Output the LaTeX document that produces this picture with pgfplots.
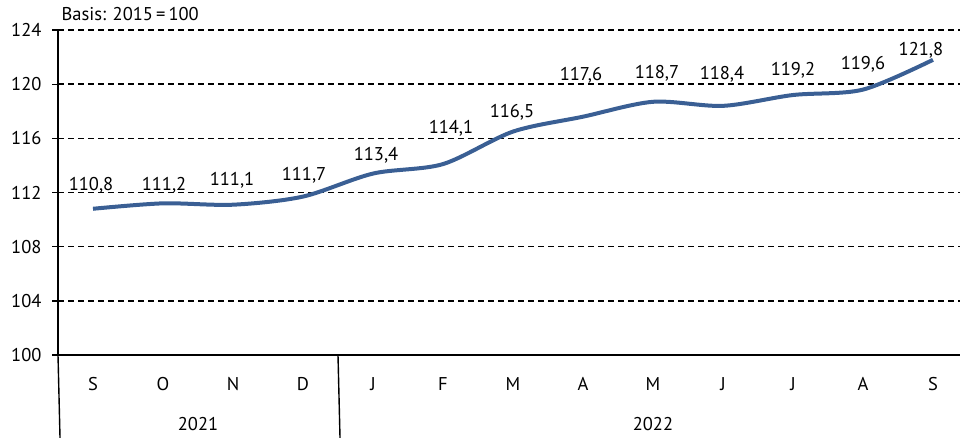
\documentclass[border=0pt]{standalone}
\usepackage{pgfplots}
\pgfplotsset{compat=1.18}
\usepackage{fontspec}
\setmainfont{PT Sans}
\definecolor{lineblue}{HTML}{3A5F94}
\pgfplotstableread{
x y dx dy
0 110.8 -2 23.7
1 111.2 1 18.3
2 111.1 -1 24.7
3 111.7 1 21.6
4 113.4 3 18.5
5 114.1 8 36
6 116.5 -1 19.6
7 117.6 -2 41.7
8 118.7 4 28.8
9 118.4 -1 31.8
10 119.2 0 25
11 119.6 0 25.6
12 121.8 -12 9.8
}\datatable
\begin{document}
\begin{tikzpicture}[x=1pt,y=1pt,font=\fontsize{18.5}{22}\selectfont]
\path[use as bounding box] (0,0) rectangle (960,437);
\node[anchor=west] at (58,423) {Basis: 2015\,=\,100};
\begin{axis}[
  at={(58pt,82pt)}, anchor=south west,
  scale only axis, width=902pt, height=325pt,
  xmin=-0.5, xmax=12.386, ymin=100, ymax=124,
  ytick={100,104,...,124},
  xtick={0,...,12}, xticklabels={S,O,N,D,J,F,M,A,M,J,J,A,S},
  axis x line=bottom, axis y line=left,
  axis line style={-, black, line width=1.4pt},
  ymajorgrids, grid style={dash pattern=on 6pt off 4pt, black, line width=1.4pt},
  tick align=outside, major tick length=6pt,
  x tick style={draw=none},
  y tick style={black, line width=1.3pt},
  /pgf/number format/assume math mode=true,
  ticklabel style={font=\fontsize{18.5}{22}\selectfont},
  xticklabel style={anchor=center, yshift=-23pt},
  yticklabel style={xshift=-7pt},
  clip=false,
]
\addplot[lineblue, line width=4pt, smooth, tension=0.5,
  nodes near coords={\pgfmathprintnumber[fixed,fixed zerofill,precision=1,use comma,assume math mode=true]{\pgfplotspointmeta}},
  visualization depends on={\thisrow{dx} \as \dx},
  visualization depends on={\thisrow{dy} \as \dy},
  every node near coord/.append style={anchor=center, xshift=\dx pt, yshift=\dy pt, text=black, font=\fontsize{18.5}{22}\selectfont},
] table[x=x, y=y] {\datatable};
\draw[black, line width=1.4pt] (axis cs:-0.5,100) -- ++(0,-82pt);
\draw[black, line width=1.4pt] (axis cs:3.5,100) -- ++(0,-82pt);
\node at (axis cs:1.5,100) [yshift=-69pt] {2021};
\node at (axis cs:8,100) [yshift=-69pt] {2022};
\end{axis}
\end{tikzpicture}
\end{document}
